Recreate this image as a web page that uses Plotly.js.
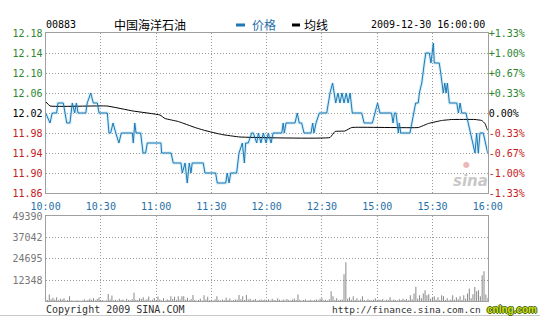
<!DOCTYPE html>
<html>
<head>
<meta charset="utf-8">
<script src="https://cdn.plot.ly/plotly-3.0.1.min.js"></script>
<style>html,body{margin:0;padding:0;background:#fff;}#chart{width:540px;height:317px;}</style>
</head>
<body>
<div id="chart"></div>
<script>
// ---- data (minutes from 10:00 open; afternoon session 14:30-16:00 follows 12:30) ----
const timeTickMinutes = [0, 30, 60, 90, 120, 150, 180, 210, 240];
const timeTickLabels = ["10:00", "10:30", "11:00", "11:30", "12:00", "12:30", "15:00", "15:30", "16:00"];

const priceTicks = [11.86, 11.90, 11.94, 11.98, 12.02, 12.06, 12.10, 12.14, 12.18];
const pctLabels = ["-1.33%", "-1.00%", "-0.67%", "-0.33%", "0.00%", "+0.33%", "+0.67%", "+1.00%", "+1.33%"];
const prevClose = 12.02;

const priceMinutes = [0, 2.4, 3.6, 6.0, 6.7, 9.6, 11.5, 13.2, 14.5, 15.8, 16.7, 17.6, 21.8, 22.6, 24.5, 25.9, 28.1, 29.0,
  33.5, 34.4, 35.3, 36.6, 38.1, 39.8, 41.1, 47.1, 47.6, 48.4, 49.1, 51.6, 52.9, 54.3, 55.2, 62.6, 63.0, 68.1, 69.3,
  73.5, 74.2, 75.7, 76.9, 78.0, 78.9, 79.6, 85.6, 86.5, 92.3, 93.2, 97.8, 98.6, 99.6, 100.5, 103.7, 105.0, 106.8,
  107.9, 108.6, 110.0, 111.9, 112.8, 114.6, 115.5, 116.9, 118.2, 119.7, 120.9, 122.4, 123.5, 128.2, 129.0, 129.6,
  130.5, 135.4, 136.6, 137.7, 139.0, 140.3, 144.1, 145.0, 145.7, 146.8, 148.6, 152.6, 153.5, 154.4, 155.8, 157.5,
  158.7, 159.8, 160.9, 162.0, 163.2, 164.2, 165.3, 166.5, 171.6, 172.9, 177.4, 178.8, 180.2, 181.5, 187.8, 188.6,
  189.4, 190.2, 190.9, 191.5, 192.0, 192.8, 197.8, 198.8, 199.6, 200.9, 202.3, 202.9, 204.2, 204.7, 205.6, 206.4,
  208.3, 209.2, 210.5, 211.0, 211.9, 213.7, 214.5, 215.2, 215.9, 216.7, 217.4, 218.1, 219.2, 223.2, 224.1, 225.0,
  225.9, 228.2, 229.5, 230.4, 231.7, 233.1, 234.0, 234.9, 235.8, 237.6, 240];
const priceValues = [12.02, 12.00, 12.02, 12.02, 12.04, 12.04, 12.00, 12.00, 12.04, 12.02, 12.04, 12.02, 12.02, 12.04, 12.06, 12.04, 12.04, 12.02,
  12.02, 11.98, 11.98, 12.00, 11.98, 11.96, 11.98, 11.98, 11.96, 12.00, 11.98, 11.98, 11.94, 11.94, 11.96, 11.96, 11.94, 11.94, 11.92,
  11.92, 11.90, 11.92, 11.88, 11.92, 11.90, 11.92, 11.92, 11.90, 11.90, 11.88, 11.88, 11.90, 11.88, 11.90, 11.90, 11.94, 11.96,
  11.92, 11.96, 11.96, 11.98, 11.98, 11.96, 11.98, 11.96, 11.98, 11.96, 11.98, 11.96, 11.98, 11.98, 12.00, 11.98,
  12.00, 12.00, 12.02, 12.00, 12.00, 11.98, 11.98, 12.00, 11.98, 12.00, 12.02, 12.02, 12.04, 12.06, 12.08, 12.04,
  12.06, 12.04, 12.06, 12.04, 12.06, 12.04, 12.06, 12.02, 12.02, 12.00, 12.00, 12.02, 12.04, 12.02, 12.02, 12.00,
  12.02, 12.02, 12.00, 11.98, 12.00, 11.98, 11.98, 12.00, 12.02, 12.04, 12.04, 12.06, 12.08, 12.10, 12.12, 12.14,
  12.14, 12.12, 12.16, 12.12, 12.12, 12.12, 12.10, 12.08, 12.06, 12.08, 12.06, 12.08, 12.04, 12.04, 12.02, 12.04,
  12.02, 12.02, 12.00, 11.98, 11.96, 11.94, 11.98, 11.94, 11.98, 11.98, 11.94];

const avgMinutes = [0, 2.4, 33.3, 47.4, 62.1, 64.8, 72.0, 81.1, 86.5, 95.6, 105.5, 154.4, 157.1, 162.5, 166.2, 202.3, 207.8, 215.0, 220.5, 233.1, 236.8, 238.5, 240];
const avgValues = [12.043, 12.034, 12.034, 12.024, 12.016, 12.009, 12.003, 11.991, 11.985, 11.977, 11.972, 11.971, 11.983, 11.984, 11.991, 11.991, 11.999, 12.005, 12.007, 12.007, 12.005, 11.999, 11.985];

const volumeTicks = [12348, 24695, 37042, 49390];
const volumes = [
  2500, 800, 4000, 1200, 2000, 900, 2400, 600, 1500, 1000, 1800, 500, 700, 3000, 400, 500, 300, 600, 400, 300, 500, 1200, 400, 800, 1500, 900, 1700, 600, 1400, 2200,
  500, 800, 300, 600, 4200, 1000, 3300, 600, 900, 400, 1500, 700, 1100, 500, 1500, 800, 600, 1200, 5000, 900, 700, 1800, 1300, 2400, 800, 1200, 2800, 600, 900, 1900,
  700, 2800, 1000, 600, 1800, 500, 1200, 700, 2900, 1400, 2600, 800, 3000, 1100, 2900, 3000, 900, 2000, 600, 1300, 3600, 800, 500, 700, 1500, 400, 3500, 1000, 2700, 600,
  900, 500, 1200, 2900, 700, 400, 1000, 600, 2000, 800, 1600, 500, 700, 1100, 900, 3600, 1200, 2900, 800, 3600, 1000, 1500, 600, 900, 1300, 500, 800, 1100, 700, 1000,
  800, 1200, 500, 1500, 700, 600, 1800, 900, 400, 1100, 600, 1300, 800, 500, 1000, 1600, 700, 3900, 900, 500, 700, 1200, 400, 600, 900, 500, 800, 1100, 600, 1500,
  1800, 600, 900, 500, 1200, 5800, 2900, 800, 1800, 600, 900, 1100, 15700, 22700, 1500, 2300, 900, 2900, 700, 1800, 600, 1000, 2900, 800, 500, 1200, 700, 600, 900, 1800,
  600, 1000, 800, 1400, 500, 900, 700, 2300, 600, 1100, 800, 500, 1200, 700, 1500, 900, 1300, 600, 3500, 1200, 4600, 8500, 1500, 3500, 1800, 4600, 6400, 3500, 4100, 1500,
  2300, 2900, 900, 2300, 700, 3500, 2900, 800, 1800, 600, 1000, 3500, 900, 2300, 1200, 2900, 800, 3500, 1500, 4600, 7500, 1800, 4100, 8300, 5800, 6400, 3000, 15100, 17400, 4000, 2000
];

// ---- helpers ----
const W = 540, H = 317;
const px = x => x / W;
const py = y => 1 - y / H;
const GREEN = '#2e862e', RED = '#c42020', BLUE = '#1f6fa8', LINE = '#1f77b4';
const colorFor = p => Math.abs(p - prevClose) < 1e-9 ? '#000' : (p > prevClose ? GREEN : RED);
const leftText = priceTicks.map(p => `<span style="color:${colorFor(p)}">${p.toFixed(2)}</span>`);
const rightText = priceTicks.map((p, i) => `<span style="color:${colorFor(p)}">${pctLabels[i]}</span>`);
const MONO = 'DejaVu Sans Mono, Liberation Mono, monospace';

const xDomain = [px(45.6), px(487.7)];
const gridStyle = {showgrid: true, gridcolor: '#9a9a9a', griddash: '1px,2px', gridwidth: 1};

const traces = [
  {x: priceMinutes, y: priceValues, xaxis: 'x', yaxis: 'y', type: 'scatter', mode: 'lines',
   line: {color: 'rgba(150,215,240,0.45)', width: 3}, hoverinfo: 'skip', showlegend: false},
  {x: avgMinutes, y: avgValues, xaxis: 'x', yaxis: 'y', type: 'scatter', mode: 'lines',
   line: {color: '#000', width: 1, shape: 'spline', smoothing: 0.3}, showlegend: false},
  {x: priceMinutes, y: priceValues, xaxis: 'x', yaxis: 'y', type: 'scatter', mode: 'lines',
   line: {color: LINE, width: 1}, showlegend: false},
  // invisible companion so the right-hand percentage axis is drawn
  {x: priceMinutes, y: priceValues, xaxis: 'x', yaxis: 'y2', type: 'scatter', mode: 'lines',
   line: {color: 'rgba(0,0,0,0)', width: 0}, hoverinfo: 'skip', showlegend: false},
  {x: volumes.map((_, i) => i), y: volumes, xaxis: 'x2', yaxis: 'y3', type: 'bar',
   width: 0.55, marker: {color: '#8a8a8a', line: {width: 0}}, showlegend: false}
];

const layout = {
  width: W, height: H,
  margin: {l: 0, r: 0, t: 0, b: 0},
  paper_bgcolor: '#fff', plot_bgcolor: '#fff',
  showlegend: false,
  xaxis: Object.assign({domain: xDomain, anchor: 'y', range: [0, 240], tickvals: timeTickMinutes, ticktext: timeTickLabels,
    tickfont: {family: MONO, size: 10, color: BLUE}, ticks: '', ticklabelstandoff: 4, zeroline: false,
    showline: true, mirror: true, linecolor: '#a0a0a0', linewidth: 1}, gridStyle),
  yaxis: Object.assign({domain: [py(193), py(33)], anchor: 'x', range: [11.86, 12.18], tickvals: priceTicks, ticktext: leftText,
    tickfont: {family: MONO, size: 10}, ticks: '', zeroline: false,
    showline: true, mirror: true, linecolor: '#a0a0a0', linewidth: 1}, gridStyle),
  yaxis2: {overlaying: 'y', side: 'right', anchor: 'x', range: [11.86, 12.18], tickvals: priceTicks, ticktext: rightText,
    tickfont: {family: MONO, size: 10}, ticks: '', showgrid: false, zeroline: false, showline: false},
  xaxis2: Object.assign({domain: xDomain, anchor: 'y3', range: [0, 240], tickvals: timeTickMinutes, showticklabels: false,
    ticks: '', zeroline: false, showline: true, mirror: true, linecolor: '#a0a0a0', linewidth: 1}, gridStyle),
  yaxis3: Object.assign({domain: [py(301.3), py(216.3)], anchor: 'x2', range: [0, 49390], tickvals: volumeTicks,
    ticktext: volumeTicks.map(String), tickfont: {family: MONO, size: 10, color: '#777'}, ticks: '', zeroline: false,
    showline: true, mirror: true, linecolor: '#a0a0a0', linewidth: 1}, gridStyle),
  shapes: [
    {type: 'line', xref: 'paper', yref: 'paper', x0: px(236), x1: px(245), y0: py(25), y1: py(25), line: {color: LINE, width: 3}},
    {type: 'line', xref: 'paper', yref: 'paper', x0: px(292), x1: px(300), y0: py(25), y1: py(25), line: {color: '#000', width: 3}},
    {type: 'line', xref: 'paper', yref: 'paper', x0: 0, x1: 1, y0: py(315.5), y1: py(315.5), line: {color: '#c8c8c8', width: 1}}
  ],
  annotations: [
    {text: '00883', xref: 'paper', yref: 'paper', x: px(44), y: py(25), xanchor: 'left', yanchor: 'middle', showarrow: false,
     font: {family: MONO, size: 10, color: '#000'}},
    {text: '中国海洋石油', xref: 'paper', yref: 'paper', x: px(150), y: py(25), xanchor: 'center', yanchor: 'middle', showarrow: false,
     font: {family: 'Noto Sans CJK SC', size: 12, color: '#000'}},
    {text: '价格', xref: 'paper', yref: 'paper', x: px(250), y: py(25), xanchor: 'left', yanchor: 'middle', showarrow: false,
     font: {family: 'Noto Sans CJK SC', size: 12, color: BLUE}},
    {text: '均线', xref: 'paper', yref: 'paper', x: px(302), y: py(25), xanchor: 'left', yanchor: 'middle', showarrow: false,
     font: {family: 'Noto Sans CJK SC', size: 12, color: '#000'}},
    {text: '2009-12-30 16:00:00', xref: 'paper', yref: 'paper', x: px(369), y: py(25), xanchor: 'left', yanchor: 'middle', showarrow: false,
     font: {family: MONO, size: 10, color: '#000'}},
    {text: 'Copyright 2009 SINA.COM', xref: 'paper', yref: 'paper', x: px(44), y: py(309), xanchor: 'left', yanchor: 'middle', showarrow: false,
     font: {family: MONO, size: 10, color: '#333'}},
    {text: 'http://finance.sina.com.cn', xref: 'paper', yref: 'paper', x: px(330), y: py(309), xanchor: 'left', yanchor: 'middle', showarrow: false,
     font: {family: MONO, size: 9.5, color: '#333'}},
    {text: '<b>cnlng.com</b>', xref: 'paper', yref: 'paper', x: px(539), y: py(309), xanchor: 'right', yanchor: 'middle', showarrow: false,
     font: {family: 'Liberation Sans Narrow, Liberation Sans', size: 10, color: '#d6dc10', shadow: '1px 0 0 #3d6a10, -1px 0 0 #3d6a10, 0 1px 0 #3d6a10, 0 -1px 0 #3d6a10'}},
    {text: '<b><i>sina</i></b>', xref: 'paper', yref: 'paper', x: px(470), y: py(181), xanchor: 'center', yanchor: 'middle', showarrow: false,
     font: {family: 'DejaVu Sans', size: 15, color: '#c8c8c8'}},
    {text: '●', xref: 'paper', yref: 'paper', x: px(466), y: py(164), xanchor: 'center', yanchor: 'middle', showarrow: false,
     font: {family: 'DejaVu Sans', size: 8, color: 'rgba(220,120,120,0.55)'}}
  ]
};

Plotly.newPlot('chart', traces, layout, {staticPlot: true, displayModeBar: false});
</script>
</body>
</html>
